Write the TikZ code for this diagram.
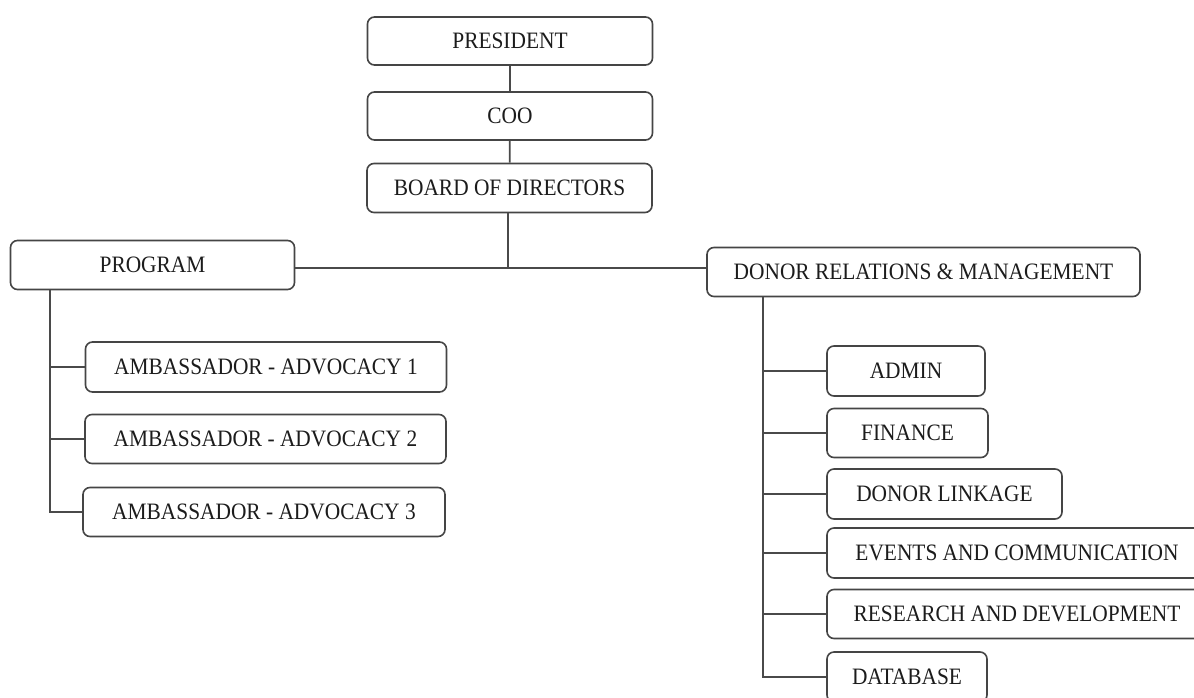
\documentclass[tikz,border=0pt]{standalone}
\usepackage{fontspec}
\setmainfont{Liberation Serif}[FakeStretch=0.91]
\definecolor{boxgray}{HTML}{454545}
\definecolor{linegray}{HTML}{4A4A4A}
\definecolor{textcol}{HTML}{1C1C1C}
\begin{document}
\begin{tikzpicture}[x=1pt,y=-1pt,
  box/.style={draw=boxgray, line width=1.6pt, rounded corners=7pt, inner sep=0pt,
    text=textcol, font=\fontsize{23.5}{28}\selectfont, anchor=center},
  conn/.style={draw=linegray, line width=1.8pt}]
\clip (0,0) rectangle (1194,697);
\fill[white] (0,0) rectangle (1194,697);
% top chain
\node[box, minimum width=285pt, minimum height=48pt] (pres) at (510,41) {PRESIDENT};
\node[box, minimum width=285pt, minimum height=48pt] (coo) at (510,116) {COO};
\node[box, minimum width=285pt, minimum height=49pt] (board) at (509.5,188) {BOARD OF DIRECTORS};
% second level
\node[box, minimum width=284pt, minimum height=49pt] (program) at (152.5,265) {PROGRAM};
\node[box, minimum width=433pt, minimum height=49pt] (drm) at (923.5,272) {DONOR RELATIONS \& MANAGEMENT};
% program children
\node[box, minimum width=361pt, minimum height=50pt] (amb1) at (266,367) {AMBASSADOR - ADVOCACY 1};
\node[box, minimum width=361pt, minimum height=49pt] (amb2) at (265.5,439) {AMBASSADOR - ADVOCACY 2};
\node[box, minimum width=362pt, minimum height=49pt] (amb3) at (264,512) {AMBASSADOR - ADVOCACY 3};
% donor relations children
\node[box, minimum width=158pt, minimum height=50pt] (admin) at (906,371) {ADMIN};
\node[box, minimum width=161pt, minimum height=49pt] (finance) at (907.5,433) {FINANCE};
\node[box, minimum width=235pt, minimum height=50pt] (linkage) at (944.5,494) {DONOR LINKAGE};
\node[box, minimum width=380pt, minimum height=50pt] (events) at (1017,553) {EVENTS AND COMMUNICATION};
\node[box, minimum width=380pt, minimum height=49pt] (rd) at (1017,614) {RESEARCH AND DEVELOPMENT};
\node[box, minimum width=160pt, minimum height=50pt] (database) at (907,677) {DATABASE};
% connectors
\coordinate (j) at (508,268);
\coordinate (ltop) at (50,289.5);
\coordinate (rtop) at (763,296.5);
\draw[conn] (pres) -- (coo);
\draw[conn] (coo) -- (board);
\draw[conn] (board.south -| j) -- (j);
\draw[conn] (j -| program.east) -- (j -| drm.west);
\draw[conn] (ltop) -- (ltop |- amb3.west) -- (amb3.west);
\draw[conn] (ltop |- amb1.west) -- (amb1.west);
\draw[conn] (ltop |- amb2.west) -- (amb2.west);
\draw[conn] (rtop) -- (rtop |- database.west) -- (database.west);
\draw[conn] (rtop |- admin.west) -- (admin.west);
\draw[conn] (rtop |- finance.west) -- (finance.west);
\draw[conn] (rtop |- linkage.west) -- (linkage.west);
\draw[conn] (rtop |- events.west) -- (events.west);
\draw[conn] (rtop |- rd.west) -- (rd.west);
\end{tikzpicture}
\end{document}
